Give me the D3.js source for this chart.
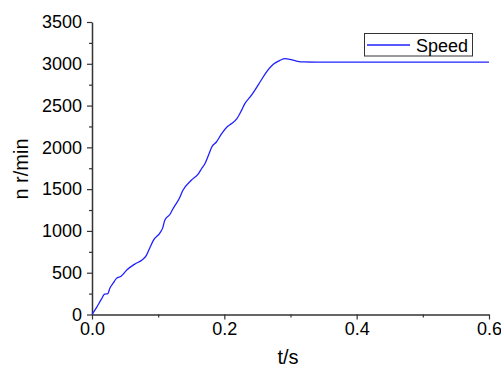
<!DOCTYPE html>
<html><head><meta charset="utf-8">
<script src="https://cdn.jsdelivr.net/npm/d3@7/dist/d3.min.js"></script>
<style>body{margin:0;background:#fff;}svg{display:block;font-family:Arial,"Liberation Sans",sans-serif;}</style>
</head><body>
<svg id="c" width="501" height="368"></svg>
<script>
const tValues = [0, 0.007, 0.014, 0.019, 0.024, 0.027, 0.032, 0.037, 0.044, 0.053, 0.065, 0.075, 0.082, 0.087, 0.093, 0.103, 0.107, 0.110, 0.118, 0.122, 0.133, 0.137, 0.150, 0.161, 0.166, 0.170, 0.176, 0.181, 0.188, 0.196, 0.204, 0.211, 0.219, 0.226, 0.231, 0.239, 0.246, 0.254, 0.262, 0.274, 0.284, 0.292, 0.299, 0.309, 0.320, 0.340, 0.400, 0.500, 0.600];
const speedValues = [0, 85, 180, 243, 251, 315, 375, 432, 458, 535, 605, 650, 705, 790, 890, 980, 1040, 1128, 1200, 1260, 1405, 1480, 1606, 1686, 1750, 1795, 1905, 2005, 2064, 2165, 2244, 2284, 2344, 2443, 2523, 2603, 2683, 2782, 2882, 2994, 3041, 3062, 3053, 3033, 3022, 3020, 3020, 3020, 3020];
const xTicks = [0, 0.2, 0.4, 0.6];
const xMinor = [0.1, 0.3, 0.5];
const yTicks = [0, 500, 1000, 1500, 2000, 2500, 3000, 3500];
const yMinor = [250, 750, 1250, 1750, 2250, 2750, 3250];
const seriesName = "Speed";
const xTitle = "t/s";
const yTitle = "n r/min";

const svg = d3.select("#c");
const x = d3.scaleLinear().domain([0, 0.6]).range([92, 489]);
const y = d3.scaleLinear().domain([0, 3500]).range([314.5, 22]);

// minor ticks
svg.append("g").attr("transform", "translate(0,314.5)")
  .call(d3.axisBottom(x).tickValues(xMinor).tickSize(3).tickFormat(""))
  .call(g => g.select(".domain").remove());
svg.append("g").attr("transform", "translate(92,0)")
  .call(d3.axisLeft(y).tickValues(yMinor).tickSize(3).tickFormat(""))
  .call(g => g.select(".domain").remove());

const xa = svg.append("g").attr("transform", "translate(0,314.5)")
  .call(d3.axisBottom(x).tickValues(xTicks).tickSize(5).tickSizeOuter(0).tickPadding(3).tickFormat(d3.format(".1f")));
const ya = svg.append("g").attr("transform", "translate(92,0)")
  .call(d3.axisLeft(y).tickValues(yTicks).tickSize(5).tickSizeOuter(0).tickPadding(5).tickFormat(d3.format("d")));
[xa, ya].forEach(a => {
  a.selectAll("text").attr("font-size", 18).attr("fill", "#000").attr("font-family", "Arial, 'Liberation Sans', sans-serif");
  a.select(".domain").attr("stroke", "#333").attr("stroke-width", 1.5);
});
svg.selectAll(".tick line").attr("stroke", "#333").attr("stroke-width", 1.2);

const line = d3.line().x((d, i) => x(tValues[i])).y(d => y(d)).curve(d3.curveMonotoneX);
svg.append("path").datum(speedValues).attr("d", line)
  .attr("fill", "none").attr("stroke", "#2020ff").attr("stroke-width", 1.3);

// titles
svg.append("text").attr("x", 288).attr("y", 364).attr("text-anchor", "middle")
  .attr("font-size", 20).text(xTitle);
svg.append("text").attr("transform", "translate(28,169) rotate(-90)").attr("text-anchor", "middle")
  .attr("font-size", 20).text(yTitle);

// legend
const lg = svg.append("g");
lg.append("rect").attr("x", 364.5).attr("y", 33.5).attr("width", 108).attr("height", 22.5)
  .attr("fill", "#fff").attr("stroke", "#333").attr("stroke-width", 1);
lg.append("line").attr("x1", 367).attr("x2", 410).attr("y1", 45).attr("y2", 45)
  .attr("stroke", "#2020ff").attr("stroke-width", 1.3);
lg.append("text").attr("x", 416).attr("y", 51.5).attr("font-size", 18).text(seriesName);
</script>
</body></html>
